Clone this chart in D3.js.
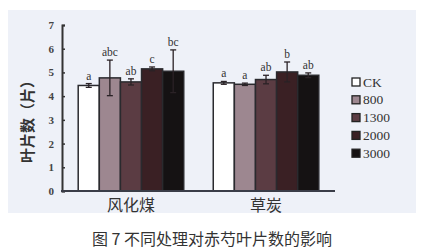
<!DOCTYPE html>
<html>
<head>
<meta charset="utf-8">
<script src="https://cdn.jsdelivr.net/npm/d3@7"></script>
<style>
  body { margin: 0; background: #fff; }
  svg { display: block; }
  .tick text { font-family: "Liberation Serif", serif; }
</style>
</head>
<body>
<svg id="chart" width="423" height="252"></svg>
<script>
const groups = ['风化煤', '草炭']
const treatments = ['CK', '800', '1300', '2000', '3000']
const colors = ['#ffffff', '#9d8790', '#5b3c43', '#3a2024', '#151213']
// leaf counts per group, in treatment order
const means = [
  [4.45, 4.77, 4.60, 5.15, 5.05],
  [4.56, 4.50, 4.70, 5.02, 4.88]
]
const errors = [
  [0.08, 0.75, 0.13, 0.08, 0.90],
  [0.06, 0.05, 0.18, 0.42, 0.10]
]
const letters = [
  ['a', 'abc', 'ab', 'c', 'bc'],
  ['a', 'a', 'ab', 'b', 'ab']
]
const yTicks = [0, 1, 2, 3, 4, 5, 6, 7]

const $svg = d3.select('#chart')

const MARGIN = { top: 25, left: 62, bottom: 61 }
const plotRight = 335
const boundedHeight = 252 - MARGIN.top - MARGIN.bottom

// scanned panel background
$svg.append('rect')
  .attr('x', 8).attr('y', 10)
  .attr('width', 408).attr('height', 203)
  .attr('fill', '#eef1f8')

const yScale = d3.scaleLinear()
  .domain([0, 7])
  .range([MARGIN.top + boundedHeight, MARGIN.top])

const xGroup = d3.scaleBand()
  .domain(groups)
  .range([MARGIN.left, plotRight])
  .paddingInner(0.2185)
  .paddingOuter(0.12)

const xBar = d3.scaleBand()
  .domain(treatments)
  .range([0, xGroup.bandwidth()])

const data = []
groups.forEach((g, gi) => {
  treatments.forEach((t, ti) => {
    data.push({ group: g, t, color: colors[ti], mean: means[gi][ti], err: errors[gi][ti], letter: letters[gi][ti] })
  })
})

const $bars = $svg.append('g')
$bars.selectAll('rect')
  .data(data)
  .join('rect')
    .attr('x', d => xGroup(d.group) + xBar(d.t))
    .attr('y', d => yScale(d.mean))
    .attr('width', xBar.bandwidth())
    .attr('height', d => yScale(0) - yScale(d.mean))
    .attr('fill', d => d.color)
    .attr('stroke', '#2a2a2e')
    .attr('stroke-width', 1.5)

// error bars
const $err = $svg.append('g').attr('stroke', '#2a2226').attr('stroke-width', 1.3)
const cx = d => xGroup(d.group) + xBar(d.t) + xBar.bandwidth() / 2
$err.selectAll('.whisker')
  .data(data)
  .join('line')
    .attr('class', 'whisker')
    .attr('x1', cx).attr('x2', cx)
    .attr('y1', d => yScale(d.mean - d.err))
    .attr('y2', d => yScale(d.mean + d.err))
$err.selectAll('.cap-top')
  .data(data)
  .join('line')
    .attr('class', 'cap-top')
    .attr('x1', d => cx(d) - 3).attr('x2', d => cx(d) + 3)
    .attr('y1', d => yScale(d.mean + d.err))
    .attr('y2', d => yScale(d.mean + d.err))
$err.selectAll('.cap-bot')
  .data(data)
  .join('line')
    .attr('class', 'cap-bot')
    .attr('x1', d => cx(d) - 3).attr('x2', d => cx(d) + 3)
    .attr('y1', d => yScale(d.mean - d.err))
    .attr('y2', d => yScale(d.mean - d.err))

// significance letters
$svg.append('g').selectAll('text')
  .data(data)
  .join('text')
    .attr('x', cx)
    .attr('y', d => yScale(d.mean + d.err) - 4)
    .attr('text-anchor', 'middle')
    .attr('font-family', 'Liberation Serif, serif')
    .attr('font-size', 11.5)
    .attr('fill', '#333')
    .text(d => d.letter)

// axes
const yAxis = $svg.append('g')
  .attr('transform', `translate(${MARGIN.left}, 0)`)
  .call(d3.axisRight(yScale).tickValues(yTicks).tickFormat(d3.format('d')).tickSize(3))
yAxis.select('.domain').attr('stroke', '#333').attr('stroke-width', 2)
yAxis.selectAll('.tick line').attr('stroke', '#333').attr('stroke-width', 1.5)
yAxis.selectAll('.tick text')
  .attr('x', -8)
  .attr('text-anchor', 'end')
  .attr('font-size', 11)
  .attr('font-weight', 'bold')
  .attr('fill', '#444')

$svg.append('line')
  .attr('x1', MARGIN.left - 1).attr('x2', plotRight)
  .attr('y1', yScale(0)).attr('y2', yScale(0))
  .attr('stroke', '#3a3d48')
  .attr('stroke-width', 2)

$svg.append('g').selectAll('text')
  .data(groups)
  .join('text')
    .attr('x', d => xGroup(d) + xGroup.bandwidth() / 2)
    .attr('y', 211)
    .attr('text-anchor', 'middle')
    .attr('font-family', 'Noto Sans CJK SC, sans-serif')
    .attr('font-size', 16)
    .attr('fill', '#333')
    .text(d => d)

$svg.append('text')
  .attr('transform', 'translate(33, 118) rotate(-90)')
  .attr('text-anchor', 'middle')
  .attr('font-family', 'Noto Sans CJK SC, sans-serif')
  .attr('font-size', 15)
  .attr('font-weight', 'bold')
  .attr('fill', '#333')
  .text('叶片数（片）')

// legend
const $legend = $svg.append('g').attr('transform', 'translate(352, 82)')
const $item = $legend.selectAll('g')
  .data(treatments)
  .join('g')
    .attr('transform', (d, i) => `translate(0, ${i * 17.8})`)
$item.append('rect')
  .attr('x', 0).attr('y', -4)
  .attr('width', 8).attr('height', 8)
  .attr('fill', (d, i) => colors[i])
  .attr('stroke', '#222')
  .attr('stroke-width', 1.3)
$item.append('text')
  .attr('x', 11)
  .attr('y', 4.5)
  .attr('font-family', 'Liberation Serif, serif')
  .attr('font-size', 13.5)
  .attr('fill', '#333')
  .text(d => d)

// caption
$svg.append('text')
  .attr('x', 212)
  .attr('y', 245)
  .attr('text-anchor', 'middle')
  .attr('font-family', 'Noto Sans CJK SC, sans-serif')
  .attr('font-size', 16)
  .attr('fill', '#333')
  .text('图 7 不同处理对赤芍叶片数的影响')
</script>
</body>
</html>
